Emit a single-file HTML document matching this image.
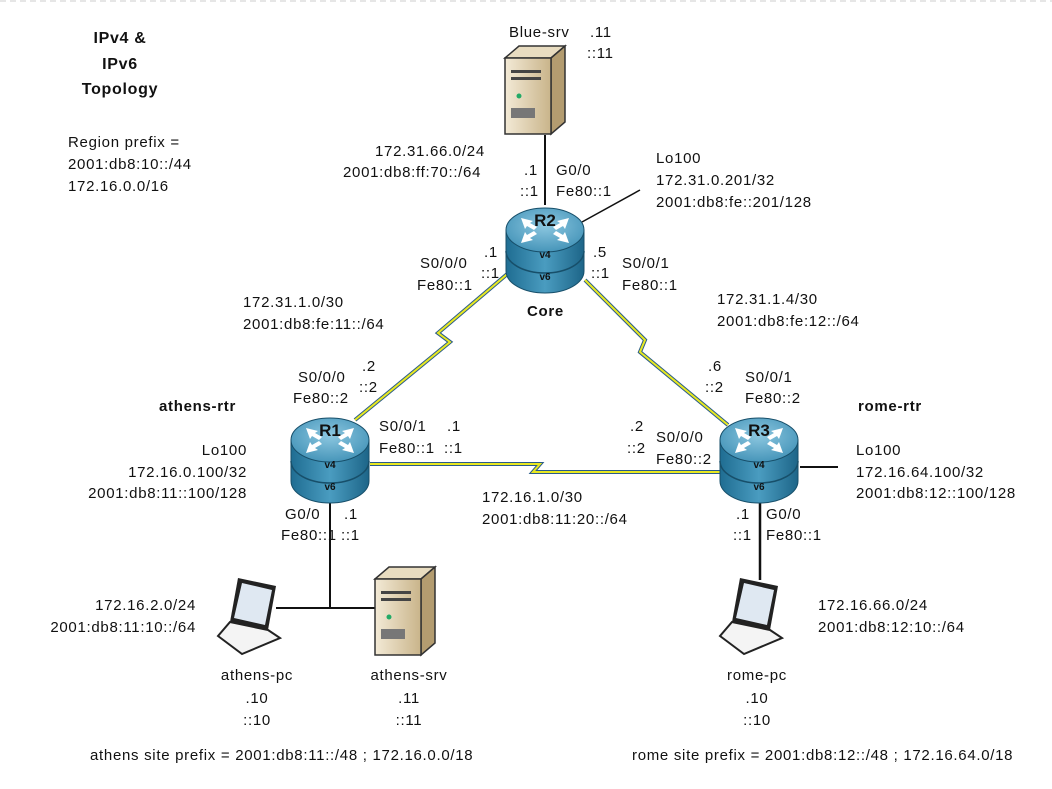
<!DOCTYPE html>
<html><head><meta charset="utf-8"><style>
html,body{margin:0;padding:0;background:#fff;}
svg{display:block;font-family:"Liberation Sans",Arial,sans-serif;}
text{font-size:15px;letter-spacing:0.7px;fill:#111;}
.b{font-weight:bold;}
.r{letter-spacing:0;}
</style></head><body>
<svg width="1052" height="789" viewBox="0 0 1052 789" xmlns="http://www.w3.org/2000/svg">
<defs>
<linearGradient id="body" x1="0" x2="1" y1="0" y2="0">
<stop offset="0" stop-color="#1f6d92"/><stop offset="0.5" stop-color="#4a9cc0"/><stop offset="1" stop-color="#1d6588"/>
</linearGradient>
<radialGradient id="top" cx="0.5" cy="0.4" r="0.7">
<stop offset="0" stop-color="#8cc7e0"/><stop offset="1" stop-color="#3b8db3"/>
</radialGradient>
<linearGradient id="srv" x1="0" x2="1"><stop offset="0" stop-color="#f3ead6"/><stop offset="1" stop-color="#c9b48a"/></linearGradient>
<g id="router">
<path d="M-39,0 L-39,41 A39,22 0 0 0 39,41 L39,0 Z" fill="url(#body)" stroke="#174f6a" stroke-width="1"/>
<path d="M-39,21 A39,22 0 0 0 39,21" fill="none" stroke="#174f6a" stroke-width="1.5"/>
<ellipse cx="0" cy="0" rx="39" ry="22" fill="url(#top)" stroke="#174f6a" stroke-width="1"/>
<g fill="#fff">
<polygon points="-24,-12 -12,-9 -15,-7 -8,-3 -11,0 -18,-4 -20,-1"/>
<polygon points="24,-12 12,-9 15,-7 8,-3 11,0 18,-4 20,-1"/>
<polygon points="-24,13 -12,10 -15,8 -8,4 -11,1 -18,5 -20,2"/>
<polygon points="24,13 12,10 15,8 8,4 11,1 18,5 20,2"/>
</g>
<text x="0" y="28" text-anchor="middle" class="b r" style="font-size:10px">v4</text>
<text x="0" y="50" text-anchor="middle" class="b r" style="font-size:10px">v6</text>
</g>
<g id="server">
<polygon points="0,12 14,0 60,0 46,12" fill="#e8dcc0" stroke="#333" stroke-width="1.5"/>
<polygon points="46,12 60,0 60,76 46,88" fill="#b39c70" stroke="#333" stroke-width="1.5"/>
<rect x="0" y="12" width="46" height="76" fill="url(#srv)" stroke="#333" stroke-width="1.5"/>
<rect x="6" y="24" width="30" height="3" fill="#444"/>
<rect x="6" y="31" width="30" height="3" fill="#444"/>
<circle cx="14" cy="50" r="2.5" fill="#2a6"/>
<rect x="6" y="62" width="24" height="10" fill="#777"/>
</g>
<g id="laptop">
<polygon points="20,0 58,8 50,52 12,44" fill="#222"/>
<polygon points="24,5 54,12 47,47 16,40" fill="#dfe8f2"/>
<polygon points="12,44 50,52 62,60 24,76 0,58" fill="#f4f4f4" stroke="#222" stroke-width="2"/>
</g>
</defs>
<line x1="0" y1="1" x2="1052" y2="1" stroke="#ccc" stroke-dasharray="6,4"/>

<line x1="545" y1="135" x2="545" y2="205" stroke="#111" stroke-width="2"/>
<line x1="582" y1="222" x2="640" y2="190" stroke="#111" stroke-width="1.5"/>
<line x1="800" y1="467" x2="838" y2="467" stroke="#111" stroke-width="2"/>
<line x1="330" y1="495" x2="330" y2="608" stroke="#111" stroke-width="2"/>
<line x1="276" y1="608" x2="385" y2="608" stroke="#111" stroke-width="2"/>
<line x1="760" y1="500" x2="760" y2="580" stroke="#111" stroke-width="2.5"/>

<g stroke-linejoin="miter">
<polyline points="512,270 438,333 450,342 355,420" fill="none" stroke="#2a5c8a" stroke-width="4"/>
<polyline points="512,270 438,333 450,342 355,420" fill="none" stroke="#e8e820" stroke-width="2"/>
<polyline points="585,280 645,340 640,352 728,425" fill="none" stroke="#2a5c8a" stroke-width="4"/>
<polyline points="585,280 645,340 640,352 728,425" fill="none" stroke="#e8e820" stroke-width="2"/>
<polyline points="370,464 540,464 533,472 722,472" fill="none" stroke="#2a5c8a" stroke-width="4"/>
<polyline points="370,464 540,464 533,472 722,472" fill="none" stroke="#e8e820" stroke-width="2"/>
</g>

<use href="#router" x="545" y="230"/>
<use href="#router" x="330" y="440"/>
<use href="#router" x="759" y="440"/>
<text x="545" y="226" text-anchor="middle" class="b r" style="font-size:17px">R2</text>
<text x="330" y="436" text-anchor="middle" class="b r" style="font-size:17px">R1</text>
<text x="759" y="436" text-anchor="middle" class="b r" style="font-size:17px">R3</text>

<use href="#server" x="505" y="46"/>
<use href="#server" x="375" y="567"/>
<use href="#laptop" x="218" y="578"/>
<use href="#laptop" x="720" y="578"/>

<text x="120" y="43" text-anchor="middle" class="b" style="font-size:16px">IPv4 &amp;</text>
<text x="120" y="69" text-anchor="middle" class="b" style="font-size:16px">IPv6</text>
<text x="120" y="94" text-anchor="middle" class="b" style="font-size:16px">Topology</text>
<text x="68" y="147">Region prefix =</text>
<text x="68" y="169">2001:db8:10::/44</text>
<text x="68" y="191">172.16.0.0/16</text>

<text x="509" y="37">Blue-srv</text>
<text x="590" y="37">.11</text>
<text x="587" y="58">::11</text>

<text x="375" y="156">172.31.66.0/24</text>
<text x="343" y="177">2001:db8:ff:70::/64</text>
<text x="524" y="175">.1</text>
<text x="520" y="196">::1</text>
<text x="556" y="175">G0/0</text>
<text x="556" y="196">Fe80::1</text>
<text x="656" y="163">Lo100</text>
<text x="656" y="185">172.31.0.201/32</text>
<text x="656" y="207">2001:db8:fe::201/128</text>

<text x="484" y="257">.1</text>
<text x="481" y="278">::1</text>
<text x="420" y="268">S0/0/0</text>
<text x="417" y="290">Fe80::1</text>
<text x="593" y="257">.5</text>
<text x="591" y="278">::1</text>
<text x="622" y="268">S0/0/1</text>
<text x="622" y="290">Fe80::1</text>
<text x="527" y="316" class="b">Core</text>

<text x="243" y="307">172.31.1.0/30</text>
<text x="243" y="329">2001:db8:fe:11::/64</text>
<text x="717" y="304">172.31.1.4/30</text>
<text x="717" y="326">2001:db8:fe:12::/64</text>

<text x="298" y="382">S0/0/0</text>
<text x="293" y="403">Fe80::2</text>
<text x="362" y="371">.2</text>
<text x="359" y="392">::2</text>
<text x="708" y="371">.6</text>
<text x="705" y="392">::2</text>
<text x="745" y="382">S0/0/1</text>
<text x="745" y="403">Fe80::2</text>

<text x="159" y="411" class="b">athens-rtr</text>
<text x="858" y="411" class="b">rome-rtr</text>

<text x="379" y="431">S0/0/1</text>
<text x="379" y="453">Fe80::1</text>
<text x="447" y="431">.1</text>
<text x="444" y="453">::1</text>
<text x="630" y="431">.2</text>
<text x="627" y="453">::2</text>
<text x="656" y="442">S0/0/0</text>
<text x="656" y="464">Fe80::2</text>

<text x="247" y="455" text-anchor="end">Lo100</text>
<text x="247" y="477" text-anchor="end">172.16.0.100/32</text>
<text x="247" y="498" text-anchor="end">2001:db8:11::100/128</text>
<text x="856" y="455">Lo100</text>
<text x="856" y="477">172.16.64.100/32</text>
<text x="856" y="498">2001:db8:12::100/128</text>

<text x="482" y="502">172.16.1.0/30</text>
<text x="482" y="524">2001:db8:11:20::/64</text>

<text x="285" y="519">G0/0</text>
<text x="281" y="540">Fe80::1</text>
<text x="344" y="519">.1</text>
<text x="341" y="540">::1</text>
<text x="736" y="519">.1</text>
<text x="733" y="540">::1</text>
<text x="766" y="519">G0/0</text>
<text x="766" y="540">Fe80::1</text>

<text x="196" y="610" text-anchor="end">172.16.2.0/24</text>
<text x="196" y="632" text-anchor="end">2001:db8:11:10::/64</text>
<text x="818" y="610">172.16.66.0/24</text>
<text x="818" y="632">2001:db8:12:10::/64</text>

<text x="257" y="680" text-anchor="middle">athens-pc</text>
<text x="257" y="703" text-anchor="middle">.10</text>
<text x="257" y="725" text-anchor="middle">::10</text>
<text x="409" y="680" text-anchor="middle">athens-srv</text>
<text x="409" y="703" text-anchor="middle">.11</text>
<text x="409" y="725" text-anchor="middle">::11</text>
<text x="757" y="680" text-anchor="middle">rome-pc</text>
<text x="757" y="703" text-anchor="middle">.10</text>
<text x="757" y="725" text-anchor="middle">::10</text>

<text x="90" y="760">athens site prefix = 2001:db8:11::/48 ; 172.16.0.0/18</text>
<text x="632" y="760">rome site prefix = 2001:db8:12::/48 ; 172.16.64.0/18</text>
</svg>
</body></html>
